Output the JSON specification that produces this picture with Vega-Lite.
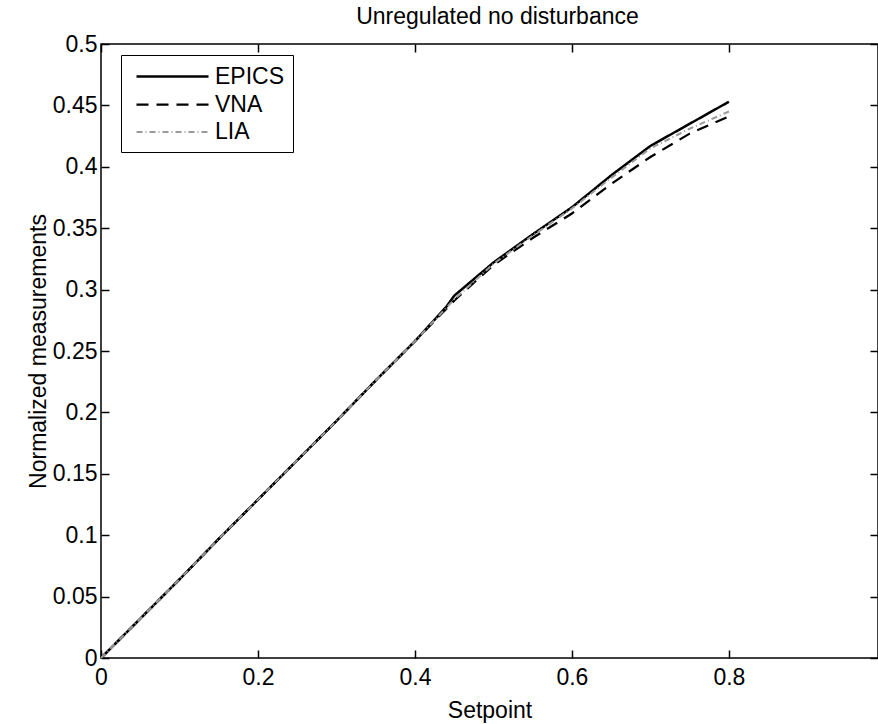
{
  "$schema": "https://vega.github.io/schema/vega-lite/v6.json",
  "autosize": "none",
  "padding": {"left": 101, "top": 44, "right": 0, "bottom": 66},
  "width": 777,
  "height": 614,
  "background": "white",
  "title": {"text": "Unregulated no disturbance", "font": "Liberation Sans", "fontSize": 23, "fontWeight": "normal", "color": "black", "offset": 4, "dx": 8},
  "config": {
    "view": {"stroke": "black", "strokeWidth": 1.5},
    "axis": {"labelFont": "Liberation Sans", "titleFont": "Liberation Sans", "labelFontSize": 23, "titleFontSize": 23, "titleFontWeight": "normal", "labelColor": "black", "titleColor": "black", "tickColor": "black", "domain": false, "grid": false, "tickSize": -8, "tickWidth": 1.5, "labelFlush": false}
  },
  "data": {"values": [
    {"x": 0, "y": 0, "s": "EPICS"},
    {"x": 0.05, "y": 0.032, "s": "EPICS"},
    {"x": 0.1, "y": 0.064, "s": "EPICS"},
    {"x": 0.15, "y": 0.097, "s": "EPICS"},
    {"x": 0.2, "y": 0.129, "s": "EPICS"},
    {"x": 0.25, "y": 0.161, "s": "EPICS"},
    {"x": 0.3, "y": 0.193, "s": "EPICS"},
    {"x": 0.35, "y": 0.226, "s": "EPICS"},
    {"x": 0.4, "y": 0.258, "s": "EPICS"},
    {"x": 0.44, "y": 0.286, "s": "EPICS"},
    {"x": 0.45, "y": 0.295, "s": "EPICS"},
    {"x": 0.5, "y": 0.322, "s": "EPICS"},
    {"x": 0.55, "y": 0.345, "s": "EPICS"},
    {"x": 0.6, "y": 0.367, "s": "EPICS"},
    {"x": 0.65, "y": 0.393, "s": "EPICS"},
    {"x": 0.7, "y": 0.417, "s": "EPICS"},
    {"x": 0.75, "y": 0.435, "s": "EPICS"},
    {"x": 0.8, "y": 0.453, "s": "EPICS"},
    {"x": 0, "y": 0, "s": "VNA"},
    {"x": 0.05, "y": 0.032, "s": "VNA"},
    {"x": 0.1, "y": 0.064, "s": "VNA"},
    {"x": 0.15, "y": 0.097, "s": "VNA"},
    {"x": 0.2, "y": 0.129, "s": "VNA"},
    {"x": 0.25, "y": 0.161, "s": "VNA"},
    {"x": 0.3, "y": 0.193, "s": "VNA"},
    {"x": 0.35, "y": 0.226, "s": "VNA"},
    {"x": 0.4, "y": 0.258, "s": "VNA"},
    {"x": 0.45, "y": 0.291, "s": "VNA"},
    {"x": 0.5, "y": 0.320, "s": "VNA"},
    {"x": 0.55, "y": 0.342, "s": "VNA"},
    {"x": 0.6, "y": 0.362, "s": "VNA"},
    {"x": 0.65, "y": 0.386, "s": "VNA"},
    {"x": 0.7, "y": 0.408, "s": "VNA"},
    {"x": 0.75, "y": 0.427, "s": "VNA"},
    {"x": 0.8, "y": 0.441, "s": "VNA"},
    {"x": 0, "y": 0, "s": "LIA"},
    {"x": 0.05, "y": 0.032, "s": "LIA"},
    {"x": 0.1, "y": 0.064, "s": "LIA"},
    {"x": 0.15, "y": 0.097, "s": "LIA"},
    {"x": 0.2, "y": 0.129, "s": "LIA"},
    {"x": 0.25, "y": 0.161, "s": "LIA"},
    {"x": 0.3, "y": 0.193, "s": "LIA"},
    {"x": 0.35, "y": 0.226, "s": "LIA"},
    {"x": 0.4, "y": 0.258, "s": "LIA"},
    {"x": 0.45, "y": 0.292, "s": "LIA"},
    {"x": 0.5, "y": 0.321, "s": "LIA"},
    {"x": 0.55, "y": 0.344, "s": "LIA"},
    {"x": 0.6, "y": 0.366, "s": "LIA"},
    {"x": 0.65, "y": 0.391, "s": "LIA"},
    {"x": 0.7, "y": 0.415, "s": "LIA"},
    {"x": 0.75, "y": 0.431, "s": "LIA"},
    {"x": 0.8, "y": 0.445, "s": "LIA"}
  ]},
  "resolve": {"axis": {"x": "independent", "y": "independent"}},
  "layer": [
    {
      "mark": {"type": "line"},
      "encoding": {
        "x": {"field": "x", "type": "quantitative", "scale": {"domain": [0, 0.99], "nice": false, "zero": false},
              "axis": {"title": "Setpoint", "values": [0, 0.2, 0.4, 0.6, 0.8], "format": "~g", "labelPadding": 16, "titlePadding": 10}},
        "y": {"field": "y", "type": "quantitative", "scale": {"domain": [0, 0.5], "nice": false},
              "axis": {"title": "Normalized measurements", "values": [0, 0.05, 0.1, 0.15, 0.2, 0.25, 0.3, 0.35, 0.4, 0.45, 0.5], "format": "~g", "labelPadding": 12, "titlePadding": 2}},
        "color": {"field": "s", "type": "nominal", "sort": ["EPICS", "VNA", "LIA"],
                  "scale": {"domain": ["EPICS", "VNA", "LIA"], "range": ["#000000", "#000000", "#9a9a9a"]},
                  "legend": {"title": null, "orient": "none", "legendX": 20, "legendY": 11, "direction": "vertical",
                             "strokeColor": "black", "fillColor": "white", "padding": 8,
                             "labelFont": "Liberation Sans", "labelFontSize": 23, "labelColor": "black",
                             "symbolType": "M-3,0H3", "symbolSize": 576, "symbolOffset": 30, "labelOffset": 29, "rowPadding": 2}},
        "strokeDash": {"field": "s", "type": "nominal", "sort": ["EPICS", "VNA", "LIA"],
                       "scale": {"domain": ["EPICS", "VNA", "LIA"], "range": [[1, 0], [12, 8], [6, 3, 1, 3]]},
                       "legend": {"title": null, "orient": "none", "legendX": 20, "legendY": 11}},
        "strokeWidth": {"field": "s", "type": "nominal", "sort": ["EPICS", "VNA", "LIA"],
                        "scale": {"domain": ["EPICS", "VNA", "LIA"], "range": [2.5, 2, 1.5]},
                        "legend": {"title": null, "orient": "none", "legendX": 20, "legendY": 11}}
      }
    },
    {
      "mark": {"type": "point", "opacity": 0},
      "encoding": {
        "x": {"field": "x", "type": "quantitative",
              "axis": {"orient": "top", "title": null, "labels": false, "values": [0, 0.2, 0.4, 0.6, 0.8]}},
        "y": {"field": "y", "type": "quantitative",
              "axis": {"orient": "right", "title": null, "labels": false, "values": [0, 0.05, 0.1, 0.15, 0.2, 0.25, 0.3, 0.35, 0.4, 0.45, 0.5]}}
      }
    }
  ]
}
